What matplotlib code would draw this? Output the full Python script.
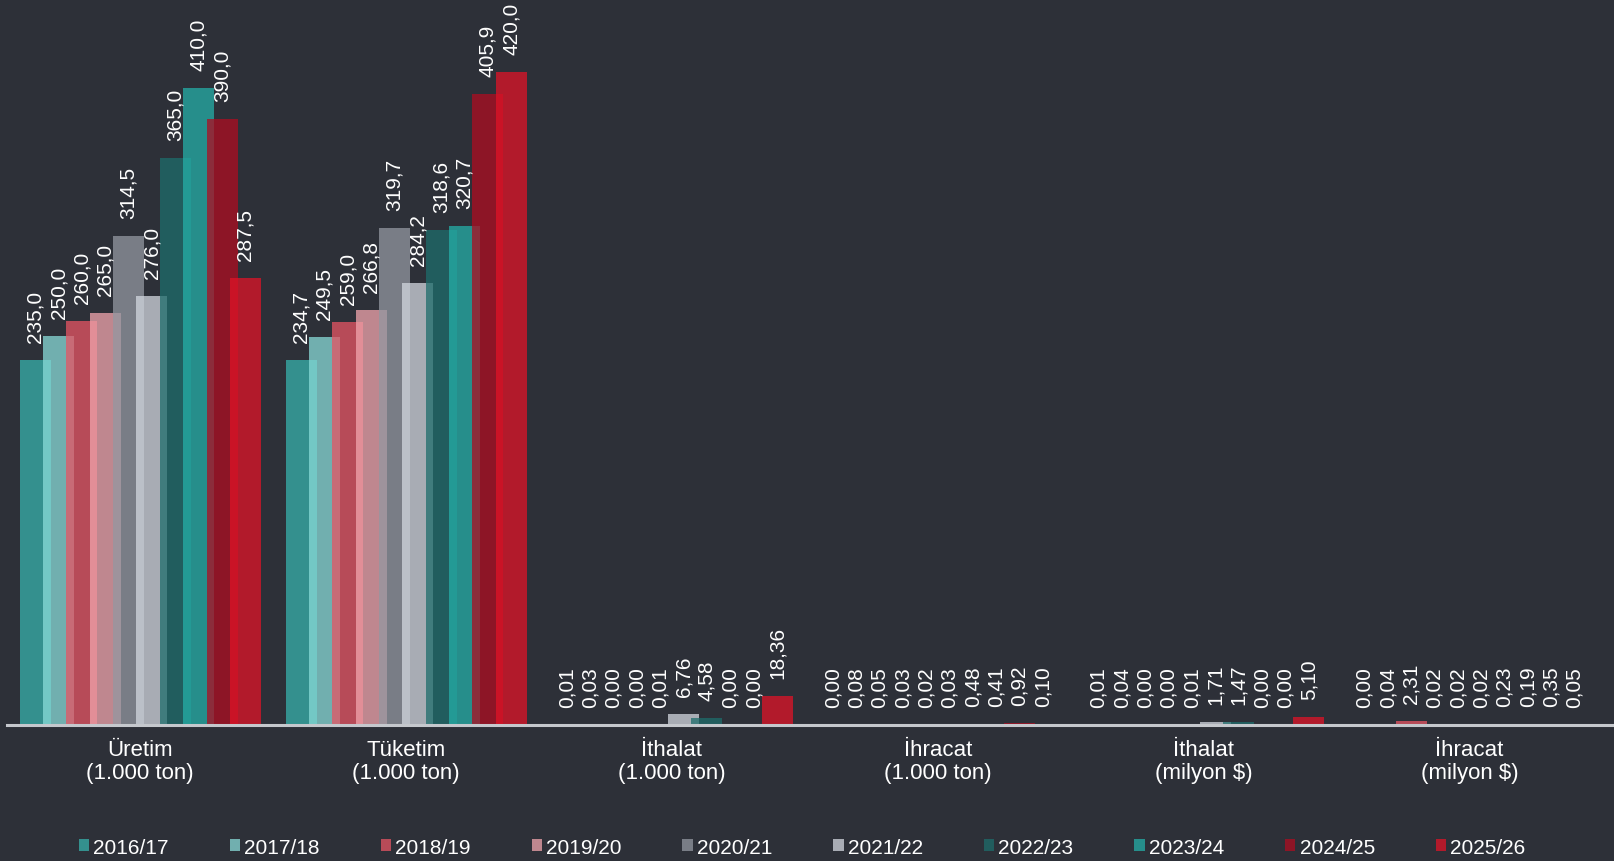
import matplotlib
matplotlib.use("Agg")
import matplotlib.pyplot as plt
from matplotlib.patches import Patch
import numpy as np

plt.rcParams['font.family'] = ['Liberation Sans', 'DejaVu Sans']

# categories on the x axis
categories = ["Üretim\n(1.000 ton)", "Tüketim\n(1.000 ton)", "İthalat\n(1.000 ton)",
              "İhracat\n(1.000 ton)", "İthalat\n(milyon $)", "İhracat\n(milyon $)"]
decimals = [1, 1, 2, 2, 2, 2]

seasons = ["2016/17", "2017/18", "2018/19", "2019/20", "2020/21",
           "2021/22", "2022/23", "2023/24", "2024/25", "2025/26"]

# one list per season, values in category order
s2016 = [235.0, 234.7, 0.01, 0.00, 0.01, 0.00]
s2017 = [250.0, 249.5, 0.03, 0.08, 0.04, 0.04]
s2018 = [260.0, 259.0, 0.00, 0.05, 0.00, 2.31]
s2019 = [265.0, 266.8, 0.00, 0.03, 0.00, 0.02]
s2020 = [314.5, 319.7, 0.01, 0.02, 0.01, 0.02]
s2021 = [276.0, 284.2, 6.76, 0.03, 1.71, 0.02]
s2022 = [365.0, 318.6, 4.58, 0.48, 1.47, 0.23]
s2023 = [410.0, 320.7, 0.00, 0.41, 0.00, 0.19]
s2024 = [390.0, 405.9, 0.00, 0.92, 0.00, 0.35]
s2025 = [287.5, 420.0, 18.36, 0.10, 5.10, 0.05]
series = [s2016, s2017, s2018, s2019, s2020, s2021, s2022, s2023, s2024, s2025]

colors = ["#37b1ac", "#89dbd8", "#e65563", "#f1a5ad", "#9498a1",
          "#d2d7df", "#1e6d6b", "#24afa8", "#ae0d20", "#e01327"]
bar_alpha = 0.75
bg = "#2d3038"

fig = plt.figure(figsize=(16.14, 8.62), dpi=100, facecolor=bg)
ax = fig.add_axes([7 / 1614, (862 - 725.7) / 862, 1 - 7 / 1614, 725.7 / 862])
ax.set_facecolor(bg)

x = np.arange(len(categories))
pitch = 23.35 / 265.8
width = 31.0 / 265.8
n = len(series)

for i, vals in enumerate(series):
    pos = x + (i - (n - 1) / 2) * pitch
    ax.bar(pos, vals, width=width, color=colors[i], alpha=bar_alpha, linewidth=0, zorder=2)
    for j, v in enumerate(vals):
        txt = f"{v:.{decimals[j]}f}".replace(".", ",")
        ax.annotate(txt, (pos[j], v), xytext=(0, 13), textcoords="offset points",
                    rotation=90, ha="center", va="bottom", color="white", fontsize=15,
                    zorder=3)

ax.set_xlim(-0.5015, 5.544)
ax.set_ylim(0, 467.1)
ax.set_yticks([])
ax.set_xticks(x)
ax.set_xticklabels(categories, color="white", fontsize=16, linespacing=1.15)
ax.tick_params(axis="x", length=0, pad=10)
for side in ["top", "left", "right"]:
    ax.spines[side].set_visible(False)
ax.spines["bottom"].set_color("#c5c8cd")
ax.spines["bottom"].set_linewidth(2.2)
ax.spines["bottom"].set_zorder(4)

handles = [Patch(facecolor=colors[i], alpha=bar_alpha, linewidth=0) for i in range(n)]
fig.legend(handles, seasons, loc="center", bbox_to_anchor=(0.497, 0.0162), ncol=n,
           frameon=False, fontsize=15, labelcolor="white", handlelength=0.5,
           handleheight=0.53, handletextpad=0.2, columnspacing=2.92,
           borderpad=0, borderaxespad=0)

fig.savefig("out.png", dpi=100, facecolor=bg)
